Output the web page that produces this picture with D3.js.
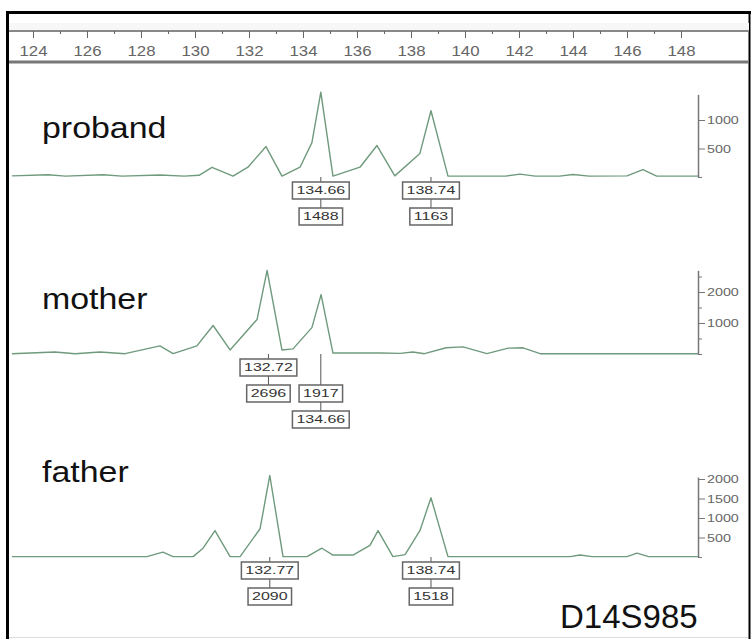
<!DOCTYPE html>
<html>
<head>
<meta charset="utf-8">
<script src="https://cdn.jsdelivr.net/npm/d3@7"></script>
<style>
  body { margin: 0; background: #fff; }
  text { font-family: Arial, "Liberation Sans", sans-serif; }
</style>
</head>
<body>
<div id="chart"></div>
<script>
// fragment size (bp) ruler
var rulerMajor = [124, 126, 128, 130, 132, 134, 136, 138, 140, 142, 144, 146, 148];
var rulerMinor = [125, 127, 129, 131, 133, 135, 137, 139, 141, 143, 145, 147];

// traces: size in bp, signal in rfu
var probandSize = [123.22, 124.56, 125.2, 126.6, 127.3, 128.7, 129.6, 130.15, 130.63, 131.41, 131.96, 132.63, 133.22, 133.89, 134.33, 134.66, 135.11, 136.11, 136.74, 137.4, 138.33, 138.74, 139.37, 141.5, 142.04, 142.6, 143.5, 144.0, 144.6, 146.0, 146.59, 147.1, 148.63];
var probandRfu  = [20, 40, 15, 40, 15, 35, 15, 30, 170, 15, 172, 534, 15, 172, 603, 1488, 15, 172, 552, 20, 414, 1163, 15, 15, 50, 15, 15, 45, 15, 20, 130, 15, 15];

var motherSize = [123.22, 124.81, 125.56, 126.48, 127.41, 128.7, 129.19, 130.07, 130.67, 131.3, 132.3, 132.67, 133.22, 133.63, 134.33, 134.67, 135.11, 136.85, 137.6, 138.07, 138.5, 139.3, 139.93, 140.81, 141.6, 142.15, 142.78, 148.63];
var motherRfu  = [10, 65, 10, 65, 10, 260, 10, 260, 920, 130, 1115, 2696, 130, 165, 850, 1917, 30, 30, 20, 65, 10, 200, 230, 10, 190, 200, 10, 10];

var fatherSize = [123.22, 128.22, 128.81, 129.19, 129.93, 130.3, 130.74, 131.3, 131.67, 132.41, 132.77, 133.26, 134.15, 134.7, 135.11, 135.85, 136.48, 136.78, 137.33, 137.78, 138.33, 138.74, 139.37, 143.9, 144.26, 144.7, 146.0, 146.37, 146.8, 148.63];
var fatherRfu  = [10, 10, 125, 10, 10, 225, 675, 10, 10, 725, 2090, 10, 10, 225, 50, 50, 300, 675, 10, 60, 675, 1518, 10, 10, 50, 10, 10, 100, 10, 10];

// allele calls
var probandCallSize = [134.66, 138.74];
var probandCallHeight = [1488, 1163];
var motherCallSize = [132.72, 134.66];
var motherCallHeight = [2696, 1917];
var fatherCallSize = [132.77, 138.74];
var fatherCallHeight = [2090, 1518];

// right axis ticks
var probandTicks = [0, 500, 1000];
var motherTicks = [0, 500, 1000, 1500, 2000, 2500];
var fatherTicks = [0, 500, 1000, 1500, 2000];

var width = 751, height = 639;

var svg = d3.select("#chart")
  .append("svg")
    .attr("width", width)
    .attr("height", height);

var x = d3.scaleLinear().domain([124, 148]).range([33, 681]);
var axisX = x(148.63);

// frame
svg.append("line").attr("x1", 7.5).attr("x2", 7.5).attr("y1", 11).attr("y2", 639)
  .attr("stroke", "#000").attr("stroke-width", 3);
svg.append("line").attr("x1", 6).attr("x2", 751).attr("y1", 12.5).attr("y2", 12.5)
  .attr("stroke", "#000").attr("stroke-width", 3);
svg.append("line").attr("x1", 749.5).attr("x2", 749.5).attr("y1", 11).attr("y2", 639)
  .attr("stroke", "#000").attr("stroke-width", 2);
svg.append("line").attr("x1", 9).attr("x2", 748).attr("y1", 637.5).attr("y2", 637.5)
  .attr("stroke", "#ddd").attr("stroke-width", 1);

// ruler
svg.append("rect").attr("x", 9).attr("y", 23).attr("width", 740).attr("height", 7).attr("fill", "#f7f7f7");
svg.append("line").attr("x1", 9).attr("x2", 749).attr("y1", 31).attr("y2", 31)
  .attr("stroke", "#888").attr("stroke-width", 2);
svg.append("line").attr("x1", 9).attr("x2", 749).attr("y1", 62).attr("y2", 62)
  .attr("stroke", "#777").attr("stroke-width", 3);

var rulerG = svg.append("g").attr("transform", "translate(0,31)")
  .call(d3.axisBottom(x).tickValues(rulerMajor).tickSize(7).tickSizeOuter(0).tickPadding(8));
rulerG.select(".domain").remove();
rulerG.selectAll("line").attr("stroke", "#666");
rulerG.selectAll("text").attr("font-size", 14).attr("fill", "#666")
  .attr("font-family", "Arial, 'Liberation Sans', sans-serif")
  .each(function() {
    var l = this.getComputedTextLength();
    d3.select(this).attr("textLength", l * 1.2).attr("lengthAdjust", "spacingAndGlyphs");
  });

var minorG = svg.append("g").attr("transform", "translate(0,31)")
  .call(d3.axisBottom(x).tickValues(rulerMinor).tickSize(3).tickSizeOuter(0).tickFormat(""));
minorG.select(".domain").remove();
minorG.selectAll("line").attr("stroke", "#666");

// panels
var panels = [
  {name: "proband", size: probandSize, rfu: probandRfu, callSize: probandCallSize, callHeight: probandCallHeight,
   ticks: probandTicks, labelled: [500, 1000], base: 177, per1000: 57, top: 1450, nameY: 138},
  {name: "mother", size: motherSize, rfu: motherRfu, callSize: motherCallSize, callHeight: motherCallHeight,
   ticks: motherTicks, labelled: [1000, 2000], base: 354, per1000: 31, top: 2700, nameY: 309},
  {name: "father", size: fatherSize, rfu: fatherRfu, callSize: fatherCallSize, callHeight: fatherCallHeight,
   ticks: fatherTicks, labelled: [500, 1000, 1500, 2000], base: 557, per1000: 39, top: 2050, nameY: 482}
];

function stretch(sel, k) {
  sel.each(function() {
    var l = this.getComputedTextLength();
    d3.select(this).attr("textLength", l * k).attr("lengthAdjust", "spacingAndGlyphs");
  });
}

panels.forEach(function(p) {
  var y = d3.scaleLinear().domain([0, 1000]).range([p.base, p.base - p.per1000]);
  var g = svg.append("g");

  // sample name
  g.append("text")
    .attr("x", 42).attr("y", p.nameY)
    .attr("font-size", 30).attr("fill", "#111")
    .text(p.name)
    .call(stretch, 1.13);

  // right axis
  var yAxis = y.copy().domain([0, p.top]).range([y(0), y(p.top)]);
  var ax = g.append("g").attr("transform", "translate(" + axisX + ",0)")
    .call(d3.axisRight(yAxis).tickValues(p.ticks).tickSize(7).tickSizeOuter(0).tickPadding(2)
      .tickFormat(function(d) { return p.labelled.indexOf(d) >= 0 ? d : ""; }));
  ax.select(".domain").attr("stroke", "#777").attr("stroke-width", 1.5);
  ax.selectAll(".tick line").attr("stroke", "#777")
    .attr("x2", function(d) { return p.labelled.indexOf(d) >= 0 ? 7 : 4; });
  ax.selectAll(".tick text").attr("font-size", 11).attr("fill", "#666")
    .attr("font-family", "Arial, 'Liberation Sans', sans-serif")
    .call(stretch, 1.3);

  // trace
  var pts = p.size.map(function(s, i) { return [s, p.rfu[i]]; });
  var line = d3.line()
    .x(function(d) { return x(d[0]); })
    .y(function(d) { return y(d[1]); });
  g.append("path")
    .datum(pts)
    .attr("fill", "none")
    .attr("stroke", "#6f9a7d")
    .attr("stroke-width", 1.4)
    .attr("stroke-linejoin", "round")
    .attr("d", line);

  // allele call boxes
  var rowTop = function(r) { return p.base + 5 + r * 26; };
  var boxH = 17;
  p.callSize.forEach(function(s, i) {
    var cx = x(s);
    var crowded = i > 0 && (cx - x(p.callSize[i - 1])) < 60;
    var rows = crowded
      ? [{t: String(p.callHeight[i]), r: 1}, {t: s.toFixed(2), r: 2}]
      : [{t: s.toFixed(2), r: 0}, {t: String(p.callHeight[i]), r: 1}];
    var last = rows[rows.length - 1].r;
    g.append("line")
      .attr("x1", cx).attr("x2", cx)
      .attr("y1", p.base).attr("y2", rowTop(last))
      .attr("stroke", "#555").attr("stroke-width", 1);
    rows.forEach(function(b) {
      var bg = g.append("g");
      var rect = bg.append("rect").attr("fill", "#fff").attr("stroke", "#666").attr("stroke-width", 1.5);
      var t = bg.append("text")
        .attr("x", cx).attr("y", rowTop(b.r) + boxH / 2)
        .attr("dy", "0.36em")
        .attr("text-anchor", "middle")
        .attr("font-size", 11).attr("fill", "#333")
        .text(b.t);
      var w = t.node().getComputedTextLength() * 1.45;
      t.attr("textLength", w).attr("lengthAdjust", "spacingAndGlyphs");
      rect.attr("x", cx - w / 2 - 4).attr("y", rowTop(b.r))
        .attr("width", w + 8).attr("height", boxH);
    });
  });
});

// marker name
svg.append("text")
  .attr("x", 560).attr("y", 628)
  .attr("font-size", 33).attr("fill", "#111")
  .text("D14S985");
</script>
</body>
</html>
